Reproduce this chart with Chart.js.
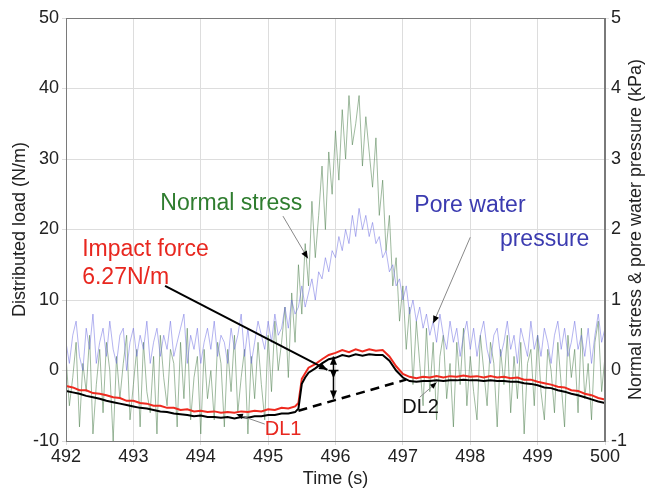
<!DOCTYPE html>
<html>
<head>
<meta charset="utf-8">
<script src="https://cdn.jsdelivr.net/npm/chart.js@4.4.1/dist/chart.umd.min.js"></script>
<style>
  html, body { margin: 0; padding: 0; background: #fff; }
  #wrap { width: 649px; height: 492px; position: relative; }
</style>
</head>
<body>
<div id="wrap"><canvas id="chart"></canvas></div>
<script>
// noisy sensor records, sampled every 0.05 s from 492 s (kPa)
const noiseStart = 492;
const noiseStep = 0.05;
const normalStress = [
  0.2, -0.5, -0.1, 0.4, -0.8, 0.1, -0.3, 0.5, -0.9, -0.2,
  0.3, -0.6, 0.4, 0.0, -1.0, 0.2, -0.4, 0.1, 0.5, -0.7,
  -0.2, 0.3, -0.8, 0.4, -0.3, -0.6, 0.2, -0.9, 0.5, -0.1,
  -0.5, 0.3, 0.1, -0.8, 0.4, -0.4, 0.6, -0.7, -0.1, 0.2,
  -0.9, 0.3, -0.4, 0.0, -0.7, 0.4, 0.1, -0.8, 0.3, -0.3,
  0.5, -0.6, -0.1, 0.3, -0.9, 0.2, -0.4, 0.4, -0.2, -0.7,
  0.5, -0.3, 0.7, 0.0, 0.4, 0.9, -0.1, 1.1, 0.4, 1.5,
  0.8, 1.8, 1.2, 2.4, 1.6, 2.2, 2.9, 2.0, 3.1, 2.5,
  3.4, 2.7, 3.7, 3.0, 3.9, 3.2, 3.5, 3.9, 2.9, 3.6,
  3.1, 2.6, 3.3, 2.2, 2.7, 1.7, 2.2, 1.2, 1.6, 0.7,
  1.2, 0.3, 0.9, -0.2, 0.7, 0.1, -0.5, 0.6, -0.3, 0.4,
  -0.7, 0.2, 0.5, -0.4, 0.1, -0.8, 0.4, -0.2, 0.6, -0.5,
  0.2, -0.3, -0.7, 0.5, 0.0, -0.5, 0.4, 0.1, -0.8, 0.3,
  -0.2, 0.5, -0.6, 0.2, -0.4, 0.4, -0.9, 0.1, 0.3, -0.5,
  0.5, -0.3, -0.7, 0.3, 0.0, -0.6, 0.4, -0.2, -0.8, 0.5,
  -0.1, 0.3, -0.6, 0.6, -0.4, 0.1, -0.7, 0.4, 0.7, -0.3,
  0.2
];
const poreWater = [
  0.4, 0.1, 0.5, 0.7, 0.2, 0.0, 0.6, 0.3, 0.8, 0.1,
  0.4, 0.6, 0.2, 0.7, 0.3, 0.1, 0.5, 0.6, 0.0, 0.4,
  0.6, 0.2, 0.5, 0.3, 0.7, 0.1, 0.4, 0.6, 0.2, 0.5,
  0.3, 0.7, 0.2, 0.4, 0.6, 0.8, 0.1, 0.5, 0.3, 0.6,
  0.1, 0.4, 0.6, 0.3, 0.7, 0.2, 0.5, 0.4, 0.1, 0.6,
  0.3, 0.5, 0.8, 0.2, 0.6, 0.1, 0.4, 0.7, 0.5, 0.3,
  0.7, 0.4, 0.8, 0.5, 0.6, 0.9, 0.6, 1.0, 0.8, 0.9,
  1.2, 0.9, 1.1, 1.3, 1.0, 1.4, 1.3, 1.6, 1.4, 1.7,
  1.6, 1.9, 1.7, 2.0, 1.8, 2.2, 1.9, 2.3, 2.0, 2.2,
  1.9, 2.1, 1.8, 1.9, 1.6, 1.7, 1.4, 1.5, 1.2, 1.3,
  1.0, 1.2, 0.8, 1.0, 0.7, 0.9, 0.6, 0.8, 0.5, 0.7,
  0.4, 0.8, 0.5, 0.3, 0.7, 0.4, 0.6, 0.2, 0.5, 0.7,
  0.3, 0.6, 0.2, 0.5, 0.7, 0.3, 0.1, 0.5, 0.6, 0.2,
  0.4, 0.7, 0.3, 0.5, 0.1, 0.6, 0.4, 0.2, 0.7, 0.3,
  0.5, 0.2, 0.6, 0.4, 0.1, 0.5, 0.7, 0.3, 0.6, 0.2,
  0.4, 0.7, 0.3, 0.5, 0.2, 0.6, 0.1, 0.5, 0.8, 0.4,
  0.6
];

// distributed load (N/m)
const loadTime = [
  492.0, 492.1, 492.2, 492.3, 492.4, 492.5, 492.6, 492.7, 492.8, 492.9,
  493.0, 493.1, 493.2, 493.3, 493.4, 493.5, 493.6, 493.7, 493.8, 493.9,
  494.0, 494.1, 494.2, 494.3, 494.4, 494.5, 494.6, 494.7, 494.8, 494.9,
  495.0, 495.1, 495.2, 495.3, 495.4, 495.45, 495.5, 495.55, 495.6, 495.7,
  495.8, 495.9, 496.0, 496.1, 496.2, 496.3, 496.4, 496.5, 496.6, 496.7,
  496.8, 496.9, 497.0, 497.1, 497.2, 497.3, 497.4, 497.5, 497.6, 497.7,
  497.8, 497.9, 498.0, 498.1, 498.2, 498.3, 498.4, 498.5, 498.6, 498.7,
  498.8, 498.9, 499.0, 499.1, 499.2, 499.3, 499.4, 499.5, 499.6, 499.7,
  499.8, 499.9, 500.0
];
const loadRed = [
  -2.2, -2.4, -2.8, -2.8, -3.2, -3.3, -3.5, -3.8, -3.9, -4.3,
  -4.3, -4.6, -4.7, -5.0, -5.0, -5.3, -5.3, -5.6, -5.5, -5.8,
  -5.7, -5.9, -5.8, -6.0, -5.9, -6.0, -5.8, -5.9, -5.7, -5.8,
  -5.5, -5.6, -5.3, -5.4, -5.1, -4.6, -1.2, -0.4, 0.4, 0.9,
  1.6, 2.2, 2.5, 2.9, 2.6, 3.0, 2.7, 3.0, 2.8, 2.9,
  2.0, 0.6, -0.5, -0.9, -1.1, -0.9, -1.0, -0.8, -1.0, -0.8,
  -0.9, -0.7, -0.9, -0.8, -1.0, -0.8, -1.0, -0.9, -1.1, -1.0,
  -1.3, -1.3, -1.6, -1.8, -2.0, -2.3, -2.4, -2.8, -2.9, -3.3,
  -3.5, -3.9, -4.1
];
const loadBlack = [
  -2.9, -3.1, -3.3, -3.6, -3.8, -4.0, -4.3, -4.5, -4.7, -4.9,
  -5.1, -5.3, -5.4, -5.6, -5.8, -5.9, -6.1, -6.2, -6.3, -6.5,
  -6.4, -6.6, -6.6, -6.7, -6.6, -6.8, -6.6, -6.7, -6.5, -6.5,
  -6.3, -6.3, -6.1, -6.1, -5.9, -5.4, -1.9, -1.0, -0.3, 0.3,
  1.0, 1.6, 1.8, 2.2, 2.0, 2.3, 2.1, 2.3, 2.2, 2.2,
  1.4, 0.0, -1.0, -1.5, -1.6, -1.5, -1.5, -1.4, -1.5, -1.4,
  -1.4, -1.3, -1.4, -1.4, -1.5, -1.4, -1.5, -1.5, -1.6, -1.6,
  -1.8, -1.9, -2.1, -2.4, -2.5, -2.8, -3.0, -3.3, -3.5, -3.8,
  -4.1, -4.4, -4.6
];
// baseline drawn under the impact bump
const baseTime = [495.45, 497.05];
const baseLoad = [-5.7, -1.3];

const xTicks = [492, 493, 494, 495, 496, 497, 498, 499, 500];

const FONT = "'Liberation Sans', Arial, sans-serif";
const RIGHT_TITLE = "Normal stress & pore water pressure (kPa)";

const toPoints = (xs, ys) => ys.map((y, i) => ({ x: xs[i], y: y }));
const noiseTime = normalStress.map((_, i) => +(noiseStart + i * noiseStep).toFixed(2));

// text labels and leader arrows, in data units of the load axis
const labels = [
  { text: "Impact force", x: 492.24, y: 17.1, color: "#e8271f", size: 23 },
  { text: "6.27N/m", x: 492.24, y: 13.1, color: "#e8271f", size: 23 },
  { text: "Normal stress", x: 493.4, y: 23.7, color: "#2f7d2f", size: 23 },
  { text: "Pore water", x: 497.17, y: 23.4, color: "#3b3bb0", size: 23 },
  { text: "pressure", x: 498.44, y: 18.5, color: "#3b3bb0", size: 23 },
  { text: "DL1", x: 494.95, y: -8.3, color: "#e8271f", size: 20 },
  { text: "DL2", x: 496.99, y: -5.3, color: "#111111", size: 20 }
];
const leaders = [
  { from: [493.47, 12.0], to: [495.88, 0.1], color: "#000", width: 2, head: 9 },
  { from: [495.22, 21.9], to: [495.59, 15.9], color: "#888", width: 1, head: 8 },
  { from: [498.0, 18.9], to: [497.45, 6.7], color: "#888", width: 1, head: 8 },
  { from: [494.95, -7.6], to: [494.53, -6.2], color: "#888", width: 1, head: 7 },
  { from: [497.25, -3.8], to: [497.5, -1.7], color: "#888", width: 1, head: 7 }
];
// double arrow marking the impact force between plateau and baseline
const impactSpan = { x: 495.97, top: 2.0, bottom: -4.0 };

function arrowHead(ctx, x1, y1, x2, y2, size, color) {
  const a = Math.atan2(y2 - y1, x2 - x1);
  ctx.save();
  ctx.fillStyle = color;
  ctx.beginPath();
  ctx.moveTo(x2, y2);
  ctx.lineTo(x2 - size * Math.cos(a - 0.4), y2 - size * Math.sin(a - 0.4));
  ctx.lineTo(x2 - size * Math.cos(a + 0.4), y2 - size * Math.sin(a + 0.4));
  ctx.closePath();
  ctx.fill();
  ctx.restore();
}

const annotatePlugin = {
  id: "annotate",
  afterDatasetsDraw(chart) {
    const { ctx, chartArea } = chart;
    const xs = chart.scales.x;
    const ys = chart.scales.y;
    // frame
    ctx.save();
    ctx.strokeStyle = "#7a7a7a";
    ctx.lineWidth = 1;
    ctx.strokeRect(chartArea.left + 0.5, chartArea.top + 0.5,
      chartArea.right - chartArea.left - 1, chartArea.bottom - chartArea.top);
    ctx.restore();

    leaders.forEach((l) => {
      const x1 = xs.getPixelForValue(l.from[0]);
      const y1 = ys.getPixelForValue(l.from[1]);
      const x2 = xs.getPixelForValue(l.to[0]);
      const y2 = ys.getPixelForValue(l.to[1]);
      ctx.save();
      ctx.strokeStyle = l.color;
      ctx.lineWidth = l.width;
      ctx.beginPath();
      ctx.moveTo(x1, y1);
      ctx.lineTo(x2, y2);
      ctx.stroke();
      ctx.restore();
      arrowHead(ctx, x1, y1, x2, y2, l.head, "#000");
    });

    const sx = xs.getPixelForValue(impactSpan.x);
    const st = ys.getPixelForValue(impactSpan.top);
    const sb = ys.getPixelForValue(impactSpan.bottom);
    ctx.save();
    ctx.strokeStyle = "#000";
    ctx.lineWidth = 1.5;
    ctx.beginPath();
    ctx.moveTo(sx, st);
    ctx.lineTo(sx, sb);
    ctx.moveTo(sx - 5, st + 14);
    ctx.lineTo(sx + 5, st + 14);
    ctx.stroke();
    ctx.restore();
    arrowHead(ctx, sx, st + 12, sx, st, 9, "#000");
    arrowHead(ctx, sx, st + 8, sx, st + 22, 9, "#000");
    arrowHead(ctx, sx, sb - 12, sx, sb, 9, "#000");

    ctx.save();
    ctx.textAlign = "left";
    ctx.textBaseline = "middle";
    labels.forEach((t) => {
      ctx.font = t.size + "px " + FONT;
      ctx.fillStyle = t.color;
      ctx.fillText(t.text, xs.getPixelForValue(t.x), ys.getPixelForValue(t.y));
    });
    ctx.restore();

    // right axis title, reading bottom to top
    ctx.save();
    ctx.translate(636, (chartArea.top + chartArea.bottom) / 2);
    ctx.rotate(-Math.PI / 2);
    ctx.font = "18px " + FONT;
    ctx.fillStyle = "#222";
    ctx.textAlign = "center";
    ctx.textBaseline = "middle";
    ctx.fillText(RIGHT_TITLE, 0, 0);
    ctx.restore();
  }
};

new Chart(document.getElementById("chart"), {
  type: "line",
  data: {
    datasets: [
      {
        label: "DL black",
        data: toPoints(loadTime, loadBlack),
        borderColor: "#000000",
        borderWidth: 2,
        pointRadius: 0,
        yAxisID: "y"
      },
      {
        label: "DL red",
        data: toPoints(loadTime, loadRed),
        borderColor: "#ee2a1f",
        borderWidth: 2,
        pointRadius: 0,
        yAxisID: "y"
      },
      {
        label: "Baseline",
        data: toPoints(baseTime, baseLoad),
        borderColor: "#000000",
        borderWidth: 2.5,
        borderDash: [9, 6],
        pointRadius: 0,
        yAxisID: "y"
      },
      {
        label: "Pore water pressure",
        data: toPoints(noiseTime, poreWater),
        borderColor: "rgba(105, 105, 225, 0.5)",
        borderWidth: 1,
        pointRadius: 0,
        yAxisID: "y1"
      },
      {
        label: "Normal stress",
        data: toPoints(noiseTime, normalStress),
        borderColor: "rgba(80, 130, 80, 0.55)",
        borderWidth: 1,
        pointRadius: 0,
        yAxisID: "y1"
      }
    ]
  },
  options: {
    responsive: true,
    maintainAspectRatio: false,
    animation: false,
    layout: { padding: { top: 18, left: 0, right: 0, bottom: 0 } },
    scales: {
      x: {
        type: "linear",
        min: 492,
        max: 500,
        afterBuildTicks: (s) => { s.ticks = xTicks.map((v) => ({ value: v })); },
        afterFit: (s) => { s.height = 51; },
        ticks: { color: "#222", font: { family: FONT, size: 18 }, padding: 1 },
        grid: { color: "#dddddd", lineWidth: 1, tickLength: 4 },
        border: { color: "#7a7a7a" },
        title: {
          display: true,
          text: "Time (s)",
          color: "#222",
          font: { family: FONT, size: 18 },
          padding: { top: 0, bottom: 2 }
        }
      },
      y: {
        position: "left",
        min: -10,
        max: 50,
        afterFit: (s) => { s.width = 66; },
        ticks: { stepSize: 10, color: "#222", font: { family: FONT, size: 18 }, padding: 3 },
        grid: { color: "#dddddd", lineWidth: 1, tickLength: 4 },
        border: { color: "#7a7a7a" },
        title: {
          display: true,
          text: "Distributed load (N/m)",
          color: "#222",
          font: { family: FONT, size: 18 },
          padding: { top: 9, bottom: 0 }
        }
      },
      y1: {
        position: "right",
        min: -1,
        max: 5,
        afterFit: (s) => { s.width = 44; },
        ticks: { stepSize: 1, color: "#222", font: { family: FONT, size: 18 }, padding: 2 },
        grid: { drawOnChartArea: false, tickLength: 4 },
        border: { color: "#7a7a7a" }
      }
    },
    plugins: {
      legend: { display: false },
      tooltip: { enabled: false }
    }
  },
  plugins: [annotatePlugin]
});
</script>
</body>
</html>
